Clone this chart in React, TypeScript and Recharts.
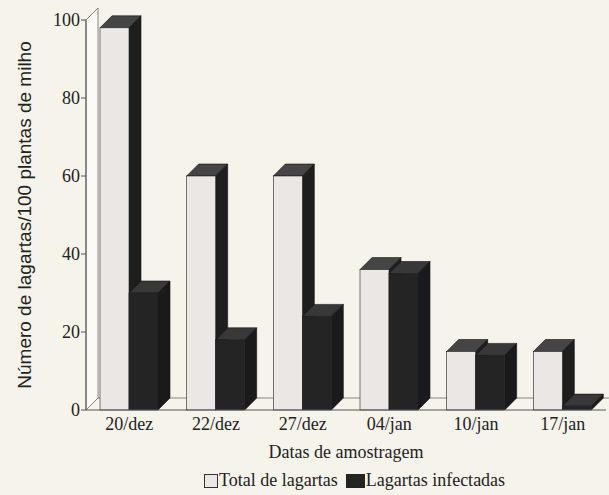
import React from "react";
import { BarChart, Bar, XAxis, YAxis, Customized } from "recharts";

const dates = ["20/dez", "22/dez", "27/dez", "04/jan", "10/jan", "17/jan"];
const totalLagartas = [98, 60, 60, 36, 15, 15];
const lagartasInfectadas = [30, 18, 24, 35, 14, 1];
const yTicks = [0, 20, 40, 60, 80, 100];

const data = dates.map((d, i) => ({
  date: d,
  total: totalLagartas[i],
  infectadas: lagartasInfectadas[i],
}));

const W = 609;
const H = 495;
const LEFT = 86;
const TOP = 20;
const BOTTOM = 410;
const DEPTH = 12;

const serif = "'Liberation Serif', 'Times New Roman', serif";
const sans = "'Liberation Sans', Arial, sans-serif";

// front face + top + right side, to mimic the 3D columns of the original
const makeBar3D = (front: string, top: string, side: string) => (props: any) => {
  const { x, y, width, height } = props;
  if (width == null || height == null) return null;
  const d = DEPTH;
  const r = x + width;
  const b = y + height;
  return (
    <g>
      <polygon
        points={`${x},${y} ${x + d},${y - d} ${r + d},${y - d} ${r},${y}`}
        fill={top}
        stroke="#111"
        strokeWidth={0.6}
      />
      <polygon
        points={`${r},${y} ${r + d},${y - d} ${r + d},${b - d} ${r},${b}`}
        fill={side}
        stroke="#111"
        strokeWidth={0.6}
      />
      <rect x={x} y={y} width={width} height={height} fill={front} stroke="#222" strokeWidth={0.6} />
    </g>
  );
};

const Walls = () => (
  <g stroke="#666" strokeWidth={0.8} fill="none">
    <polygon
      points={`${LEFT},${TOP} ${LEFT + DEPTH},${TOP - DEPTH} ${LEFT + DEPTH},${BOTTOM - DEPTH} ${LEFT},${BOTTOM}`}
      fill="#fbfaf6"
    />
    <line x1={LEFT + DEPTH} y1={BOTTOM - DEPTH} x2={W} y2={BOTTOM - DEPTH} />
  </g>
);

export default function App() {
  return (
    <div style={{ position: "absolute", left: 0, top: 0, width: W, height: H, background: "#f6f3eb" }}>
      <BarChart
        width={W}
        height={H}
        data={data}
        margin={{ top: TOP, right: 3, left: 0, bottom: 0 }}
        barGap={0}
      >
        <Customized component={Walls} />
        <XAxis
          dataKey="date"
          height={85}
          tickLine={false}
          tickSize={0}
          tickMargin={7}
          axisLine={{ stroke: "#555" }}
          tick={{ fill: "#222", fontSize: 18, fontFamily: serif }}
          label={{
            value: "Datas de amostragem",
            position: "insideBottom",
            offset: 37,
            fill: "#222",
            fontSize: 18,
            fontFamily: serif,
          }}
        />
        <YAxis
          width={LEFT}
          domain={[0, 100]}
          ticks={yTicks}
          tickSize={5}
          tickMargin={1}
          axisLine={{ stroke: "#555" }}
          tickLine={{ stroke: "#555" }}
          tick={{ fill: "#222", fontSize: 18, fontFamily: serif }}
          label={{
            value: "Número de lagartas/100 plantas de milho",
            angle: -90,
            position: "center",
            dx: -19,
            fill: "#222",
            fontSize: 19,
            fontFamily: sans,
          }}
        />
        <Bar
          dataKey="total"
          name="Total de lagartas"
          barSize={29}
          isAnimationActive={false}
          shape={makeBar3D("#ebe7e4", "#454545", "#1e1e1e")}
        />
        <Bar
          dataKey="infectadas"
          name="Lagartas infectadas"
          barSize={29}
          isAnimationActive={false}
          shape={makeBar3D("#242424", "#383838", "#1a1a1a")}
        />
      </BarChart>
      <div
        style={{
          position: "absolute",
          left: 204,
          top: 470,
          display: "flex",
          alignItems: "center",
          fontFamily: serif,
          fontSize: 18,
          color: "#222",
          whiteSpace: "nowrap",
        }}
      >
        <span style={{ width: 12, height: 12, background: "#ebe7e4", border: "1px solid #333", marginRight: 1 }} />
        <span style={{ marginRight: 8 }}>Total de lagartas</span>
        <span style={{ width: 17, height: 12, background: "#242424", border: "1px solid #222", marginRight: 1 }} />
        <span>Lagartas infectadas</span>
      </div>
    </div>
  );
}
